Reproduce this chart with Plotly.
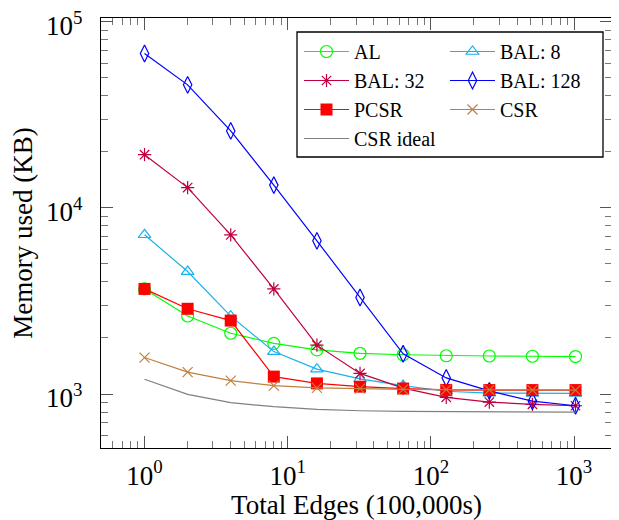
import plotly.graph_objects as go

edges = [1, 2, 4, 8, 16, 32, 64, 128, 256, 512, 1024]
al = [3670, 2625, 2120, 1870, 1725, 1655, 1625, 1605, 1600, 1595, 1590]
bal8 = [7170, 4550, 2620, 1690, 1360, 1205, 1110, 1035, 1012, 1008, 1008]
bal32 = [19300, 12850, 7160, 3670, 1830, 1290, 1075, 960, 905, 880, 865]
bal128 = [67500, 45800, 25900, 13250, 6650, 3300, 1645, 1220, 1040, 915, 865]
pcsr = [3670, 2870, 2480, 1240, 1140, 1095, 1070, 1052, 1050, 1050, 1050]
csr = [1570, 1310, 1180, 1110, 1080, 1068, 1060, 1055, 1052, 1050, 1050]
csr_ideal = [1200, 996, 898, 855, 827, 813, 807, 804, 802, 801, 800]

x_tickvals = [1, 10, 100, 1000]
x_ticktext = ["10<sup>0</sup>", "10<sup>1</sup>", "10<sup>2</sup>", "10<sup>3</sup>"]
y_tickvals = [1000, 10000, 100000]
y_ticktext = ["10<sup>3</sup>", "10<sup>4</sup>", "10<sup>5</sup>"]

# The page body has an 8px margin; work in page pixels.
OFF = 8
W, H = 619 - OFF, 520 - OFF
PL, PR, PT, PB = 101, 612, 18, 448  # plot area in page pixels
L, T = PL - OFF, PT - OFF
R, B = W - (PR - OFF), H - (PB - OFF)
PW, PH = W - L - R, H - T - B

def px(xp):
    return (xp - PL) / PW

def py(yp):
    return (PB - yp) / PH

fig = go.Figure()

def add(name, y, color, symbol, size, legend, mline=1.2, show_markers=True):
    fig.add_trace(go.Scatter(
        x=edges, y=y, name=name,
        mode="lines+markers" if show_markers else "lines",
        line=dict(color=color, width=1.2),
        marker=dict(symbol=symbol, size=size, color=color,
                    line=dict(color=color, width=mline)),
        legend=legend,
    ))

add("AL", al, "#00ff00", "circle-open", 12, "legend")
add("BAL: 8", bal8, "#1ab0ee", "triangle-up-open", 11, "legend2")
add("BAL: 32", bal32, "#bf0040", "asterisk-open", 11, "legend")
add("BAL: 128", bal128, "#0000ff", "diamond-tall-open", 12, "legend2")
add("PCSR", pcsr, "#ff0000", "square", 12, "legend", mline=0)
add("CSR", csr, "#bf8040", "x-thin-open", 10, "legend2")
add("CSR ideal", csr_ideal, "#808080", "circle", 1, "legend", show_markers=False)

serif = "Liberation Serif, Times New Roman, serif"

axis_common = dict(
    type="log",
    automargin=False,
    showgrid=False,
    zeroline=False,
    showline=True,
    linecolor="black",
    linewidth=1.3,
    mirror="allticks",
    ticks="inside",
    ticklen=12,
    tickwidth=1,
    tickcolor="#555555",
    ticklabeloverflow="allow",
    minor=dict(ticks="inside", ticklen=7, tickwidth=1, tickcolor="#777777",
               showgrid=False, tickmode="linear", dtick="D1"),
    tickfont=dict(size=27, family=serif, color="black"),
    title_font=dict(size=27, family=serif, color="black"),
)

fig.update_xaxes(
    range=[-0.304, 3.265],
    tickmode="array", tickvals=x_tickvals, ticktext=x_ticktext,
    title_text="Total Edges (100,000s)",
    title_standoff=8,
    ticklabelstandoff=3,
    **axis_common,
)
fig.update_yaxes(
    range=[2.71, 5.02],
    tickmode="array", tickvals=y_tickvals, ticktext=y_ticktext,
    title_text="Memory used (KB)",
    title_standoff=12,
    ticklabelstandoff=12,
    ticklabelshift=4,
    **axis_common,
)

legend_font = dict(size=20, family=serif, color="black")
fig.update_layout(
    width=W, height=H,
    margin=dict(l=L, r=R, t=T, b=B),
    paper_bgcolor="white",
    plot_bgcolor="white",
    font=dict(family=serif, color="black"),
    legend=dict(x=px(299), y=py(32), xanchor="left", yanchor="top",
                bgcolor="rgba(0,0,0,0)", font=legend_font, tracegroupgap=0,
                itemwidth=45),
    legend2=dict(x=px(445), y=py(32), xanchor="left", yanchor="top",
                 bgcolor="rgba(0,0,0,0)", font=legend_font, tracegroupgap=0,
                 itemwidth=45),
    shapes=[dict(type="rect", xref="paper", yref="paper",
                 x0=px(297), x1=px(603), y0=py(157), y1=py(32),
                 line=dict(color="black", width=1.3), fillcolor="white",
                 layer="above")],
)

fig.write_html("out.html")
